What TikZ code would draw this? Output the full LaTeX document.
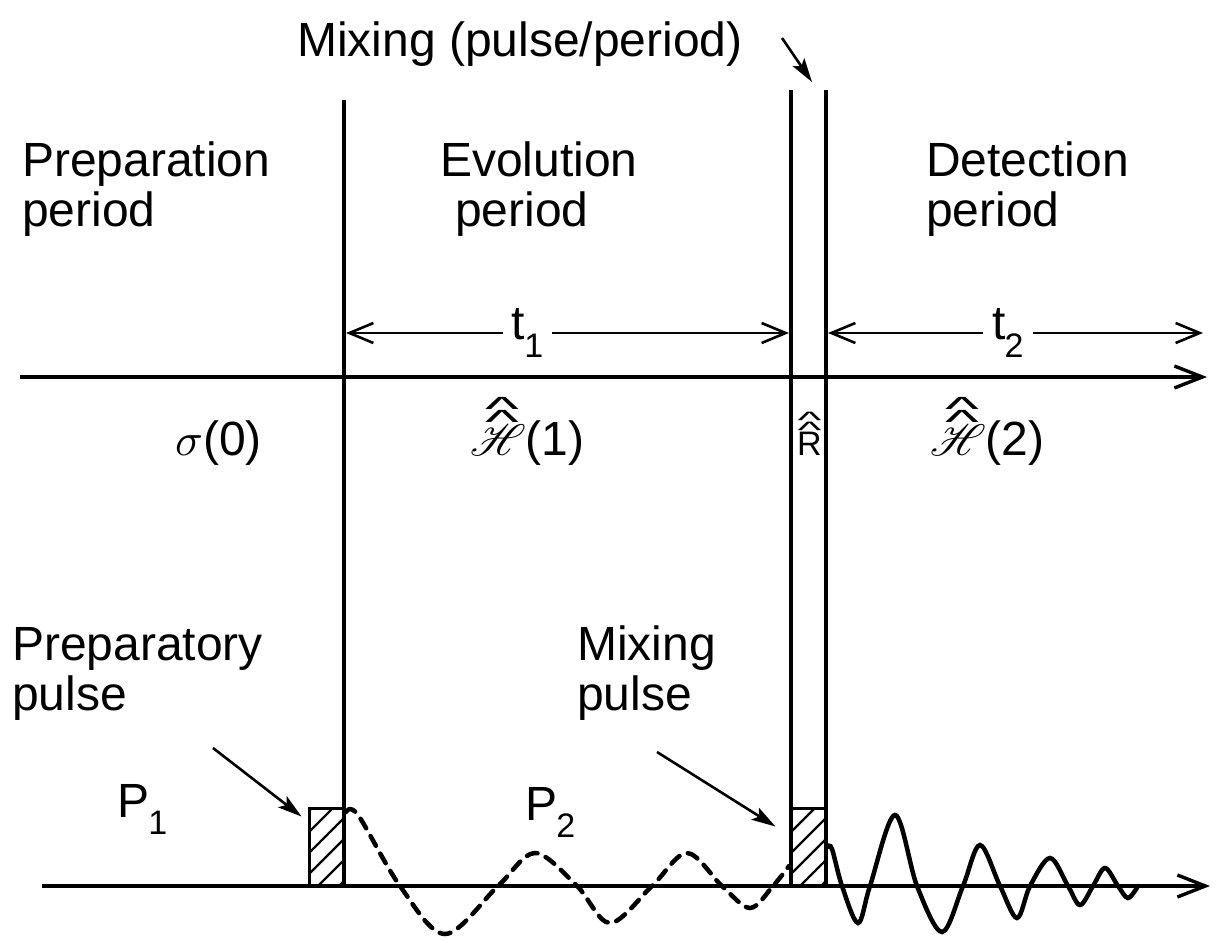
\documentclass[tikz,border=0pt]{standalone}
\usepackage{fontspec}
\setmainfont{Liberation Sans}
\usepackage{graphicx}
\usepackage{mathrsfs}
\usetikzlibrary{arrows.meta}

\newcommand{\lowidx}[1]{\kern-0.02em\raisebox{-0.36em}{\fontsize{34}{36}\selectfont#1}}
\newcommand{\bigmath}[2]{\scalebox{#1}{\fontsize{10}{12}\selectfont$#2$}}
\newcommand{\chev}{\scalebox{1.5}[0.7]{\raisebox{-0.33em}[0.36em][0pt]{\textasciicircum}}}
\newcommand{\dhat}[2][0pt]{\leavevmode\vbox{\offinterlineskip\halign{\hfil##\hfil\cr
  \hspace*{#1}\chev\cr\noalign{\kern0.02em}\hspace*{#1}\chev\cr\noalign{\kern0.04em}#2\cr}}}

\begin{document}
\begin{tikzpicture}[x=1pt,y=-1pt,font=\fontsize{48}{50}\selectfont,
 txt/.style={inner sep=0pt,align=left,anchor=base west},
 rule/.style={line width=3.6pt},
 axis/.style={line width=3.4pt,-{Straight Barb[length=28pt,width=22pt]}},
 span/.style={line width=2.6pt,{Straight Barb[length=24pt,width=20pt]}-{Straight Barb[length=24pt,width=20pt]}},
 pointer/.style={line width=2.6pt,-{Stealth[length=24pt,width=14pt,inset=5pt]}},
 pulse/.style={draw,line width=3pt,minimum width=35pt,minimum height=78pt,inner sep=0pt,
   path picture={\foreach \k in {-96,-75,...,30}
     \draw[line width=2.4pt] ([xshift=\k pt]path picture bounding box.south west) -- ++(100pt,100pt);}},
 wave/.style={line width=4.5pt,line cap=round}]
\useasboundingbox (0,0) rectangle (1225,941);

% axes and period boundaries
\coordinate (topL) at (20,377);
\coordinate (topR) at (1207,377);
\coordinate (botL) at (42,886);
\coordinate (botR) at (1210,886);
\coordinate (evoTop) at (344,100);
\coordinate (mixLTop) at (791,90);
\coordinate (mixRTop) at (826,90);
\draw[rule] (evoTop) -- (evoTop |- botL);
\draw[rule] (mixLTop) -- (mixLTop |- botL);
\draw[rule] (mixRTop) -- (mixRTop |- botL);
\draw[axis] (topL) -- (topR);
\draw[axis] (botL) -- (botR);

% t1 and t2
\coordinate (t1L) at (346,333);
\coordinate (t1R) at (789,333);
\coordinate (t2L) at (828,333);
\coordinate (t2R) at (1203,333);
\draw[span] (t1L) -- node[pos=.41,fill=white,inner sep=9pt] (t1) {t\lowidx{1}} (t1R);
\draw[span] (t2L) -- node[pos=.48,fill=white,inner sep=9pt] (t2) {t\lowidx{2}} (t2R);

% period labels
\node[txt] (prep) at (22,227) {Preparation\\period};
\node[txt] (evol) at (440,227) {Evolution\\\hspace*{15pt}period};
\node[txt] (detect) at (926,227) {Detection\\period};
\node[txt] (mixtop) at (297,57) {Mixing (pulse/period)};
\coordinate (mixTail) at (782,38);
\coordinate (mixTip) at (812,82);
\draw[pointer] (mixTail) -- (mixTip);

% operators
\node[txt] (sigma0) at (175,455) {\bigmath{4.6}{\sigma}(0)};
\node[txt] (ham1) at (470,455) {\dhat[8pt]{\bigmath{4.4}{\mathscr{H}}}(1)};
\node[txt,font=\fontsize{34}{34}\selectfont] (rot) at (797,455) {\dhat{R}};
\node[txt] (ham2) at (930,455) {\dhat[8pt]{\bigmath{4.4}{\mathscr{H}}}(2)};

% pulses
\node[pulse] (pulseA) at (326.5,847) {};
\node[pulse] (pulseB) at (808.5,847) {};
\node[txt] (prepulse) at (12,710) {Preparatory\\pulse};
\node[txt] (pone) at (117,817) {P\lowidx{1}};
\node[txt] (mixpulse) at (577,710) {Mixing\\pulse};
\node[txt] (ptwo) at (525,820) {P\lowidx{2}};
\coordinate (prepTail) at (213,748);
\coordinate (mixpTail) at (657,752);
\draw[pointer] (prepTail) -- ([xshift=-6pt,yshift=-10pt]pulseA.north west);
\draw[pointer] (mixpTail) -- ([xshift=-14pt,yshift=-20pt]pulseB.north west);

% signals
\draw[wave,dash pattern=on 11pt off 9pt] plot[smooth,tension=0.55] coordinates {
 (346,812) (358,815) (400,886) (445,934) (498,886) (535,853) (577,886) (610,923)
 (652,886) (687,853) (722,886) (750,908) (773,886) (789,866)};
\draw[wave] plot[smooth,tension=0.55] coordinates {
 (828,847) (832,849) (842,886) (858,923) (870,886) (895,815) (917,886) (942,932)
 (963,886) (980,845) (1000,886) (1017,918) (1030,886) (1050,858) (1068,886)
 (1080,905) (1093,886) (1105,868) (1118,886) (1128,898) (1138,886)};
\end{tikzpicture}
\end{document}
